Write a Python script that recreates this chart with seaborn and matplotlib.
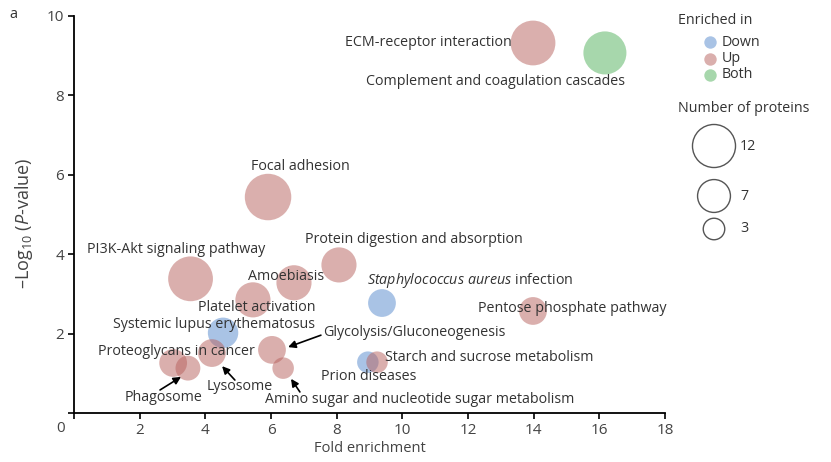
import matplotlib
matplotlib.use("Agg")
import matplotlib.pyplot as plt
import pandas as pd
import seaborn as sns

# ========== Данные ==========
terms = [
    "ECM-receptor interaction", "Complement and coagulation cascades", "Focal adhesion",
    "PI3K-Akt signaling pathway", "Protein digestion and absorption", "Amoebiasis",
    "Platelet activation", "Staphylococcus aureus infection", "Pentose phosphate pathway",
    "Systemic lupus erythematosus", "Lysosome", "Proteoglycans in cancer", "Phagosome",
    "Glycolysis/Gluconeogenesis", "Amino sugar and nucleotide sugar metabolism",
    "Prion diseases", "Starch and sucrose metabolism",
]
fold = [13.98, 16.17, 5.91, 3.55, 8.07, 6.70, 5.45, 9.38, 13.98, 4.54, 4.20, 3.02, 3.47,
        6.03, 6.37, 8.95, 9.23]
logp = [9.32, 9.07, 5.44, 3.38, 3.73, 3.28, 2.85, 2.77, 2.57, 2.02, 1.51, 1.26, 1.13,
        1.59, 1.13, 1.28, 1.28]
count = [13, 12, 14, 13, 8, 8, 8, 5, 5, 6, 5, 5, 4, 5, 3, 3, 3]
group = ["Up", "Both", "Up", "Up", "Up", "Up", "Up", "Down", "Up", "Down", "Up", "Up", "Up",
         "Up", "Up", "Down", "Up"]

groups = ["Down", "Up", "Both"]
legend_counts = [12, 7, 3]
x_ticks = [0, 2, 4, 6, 8, 10, 12, 14, 16, 18]
y_ticks = [0, 2, 4, 6, 8, 10]

palette = {"Down": "#5589cd", "Up": "#b7615d", "Both": "#51b15b"}
SIZE_K = 80  # площадь маркера пропорциональна числу белков

# подписи: (текст, x, y, выравнивание)
labels = [
    ("ECM-receptor interaction", 13.34, 9.32, "right"),
    ("Complement and coagulation cascades", 16.78, 8.34, "right"),
    ("Focal adhesion", 6.88, 6.22, "center"),
    ("PI3K-Akt signaling pathway", 0.40, 4.13, "left"),
    ("Protein digestion and absorption", 7.04, 4.36, "left"),
    ("Amoebiasis", 5.30, 3.45, "left"),
    (r"$\mathit{Staphylococcus\ aureus}$ infection", 8.92, 3.35, "left"),
    ("Platelet activation", 3.78, 2.67, "left"),
    ("Pentose phosphate pathway", 12.31, 2.62, "left"),
    ("Systemic lupus erythematosus", 1.19, 2.22, "left"),
    ("Glycolysis/Gluconeogenesis", 7.58, 2.02, "left"),
    ("Proteoglycans in cancer", 0.73, 1.54, "left"),
    ("Lysosome", 5.04, 0.66, "center"),
    ("Phagosome", 2.74, 0.38, "center"),
    ("Amino sugar and nucleotide sugar metabolism", 5.82, 0.35, "left"),
    ("Starch and sucrose metabolism", 9.47, 1.39, "left"),
    ("Prion diseases", 7.52, 0.93, "left"),
]
# стрелки: (хвост, острие)
arrows = [
    ((7.52, 1.96), (6.52, 1.66)),
    ((4.90, 0.83), (4.51, 1.18)),
    ((2.62, 0.58), (3.26, 0.91)),
    ((6.88, 0.53), (6.61, 0.86)),
]

sns.set_theme(style="white")
plt.rcParams['font.family'] = ['Open Sans', 'DejaVu Sans']
plt.rcParams['mathtext.fontset'] = 'custom'
plt.rcParams['mathtext.rm'] = 'Open Sans'
plt.rcParams['mathtext.it'] = 'Open Sans:italic'

TXT = "#333333"
FS = 10.3

df = pd.DataFrame({"term": terms, "fold": fold, "logp": logp, "count": count, "group": group})

W, H = 831, 462
fig = plt.figure(figsize=(W / 100, H / 100), dpi=100)
ax = fig.add_axes([74 / W, 1 - 413 / H, (665 - 74) / W, (413 - 16) / H])

sns.scatterplot(data=df, x="fold", y="logp", hue="group", hue_order=groups,
                size="count", sizes={n: SIZE_K * n for n in set(count)},
                palette=palette, alpha=0.5, linewidth=0, legend=False, ax=ax)

for text, x, y, ha in labels:
    ax.text(x, y, text, ha=ha, va="center", fontsize=FS, color=TXT)

for tail, tip in arrows:
    ax.annotate("", xy=tip, xytext=tail,
                arrowprops=dict(arrowstyle="-|>", color="black", lw=1.2,
                                mutation_scale=11, shrinkA=0, shrinkB=0))

ax.set_xlim(0, 18)
ax.set_ylim(0, 10)
ax.set_xticks(x_ticks)
ax.set_xticklabels([""] + [str(t) for t in x_ticks[1:]])
ax.set_yticks(y_ticks)
ax.set_yticklabels([""] + [str(t) for t in y_ticks[1:]])
ax.tick_params(length=4, width=1.2, color="black", direction="out", bottom=True, left=True,
               labelsize=11, labelcolor="#444444", pad=3)
for side in ["top", "right"]:
    ax.spines[side].set_visible(False)
for side in ["left", "bottom"]:
    ax.spines[side].set_color("black")
    ax.spines[side].set_linewidth(1.3)
ax.set_xlabel("Fold enrichment", fontsize=10.5, color="#444444", labelpad=2)
ax.set_ylabel(r"–Log$_{10}$ ($\mathit{P}$-value)", fontsize=13, color="#444444")
ax.yaxis.set_label_coords((35 - 74) / 591, (413 - 223) / 397)

fig.text(61 / W, 1 - 428 / H, "0", ha="center", va="center", fontsize=11, color="#444444")
fig.text(13 / W, 1 - 14 / H, "a", ha="center", va="center", fontsize=10.5, color=TXT)

# ========== Легенда ==========
lax = fig.add_axes([0, 0, 1, 1])
lax.set_xlim(0, W)
lax.set_ylim(H, 0)
lax.axis("off")

lax.text(678, 21, "Enriched in", ha="left", va="center", fontsize=FS, color=TXT)
for i, g in enumerate(groups):
    y = 42 + i * 16.5
    lax.scatter([710], [y], s=80, color=palette[g], alpha=0.5, linewidth=0)
    lax.text(722, y, g, ha="left", va="center", fontsize=FS, color=TXT)

lax.text(678, 109, "Number of proteins", ha="left", va="center", fontsize=FS, color=TXT)
for n, y in zip(legend_counts, [146, 196, 229]):
    lax.scatter([714], [y], s=SIZE_K * n, facecolor="none", edgecolor="#555555", linewidth=1)
    lax.text(740, y, str(n), ha="left", va="center", fontsize=FS, color=TXT)

fig.savefig("out.png", dpi=100)
